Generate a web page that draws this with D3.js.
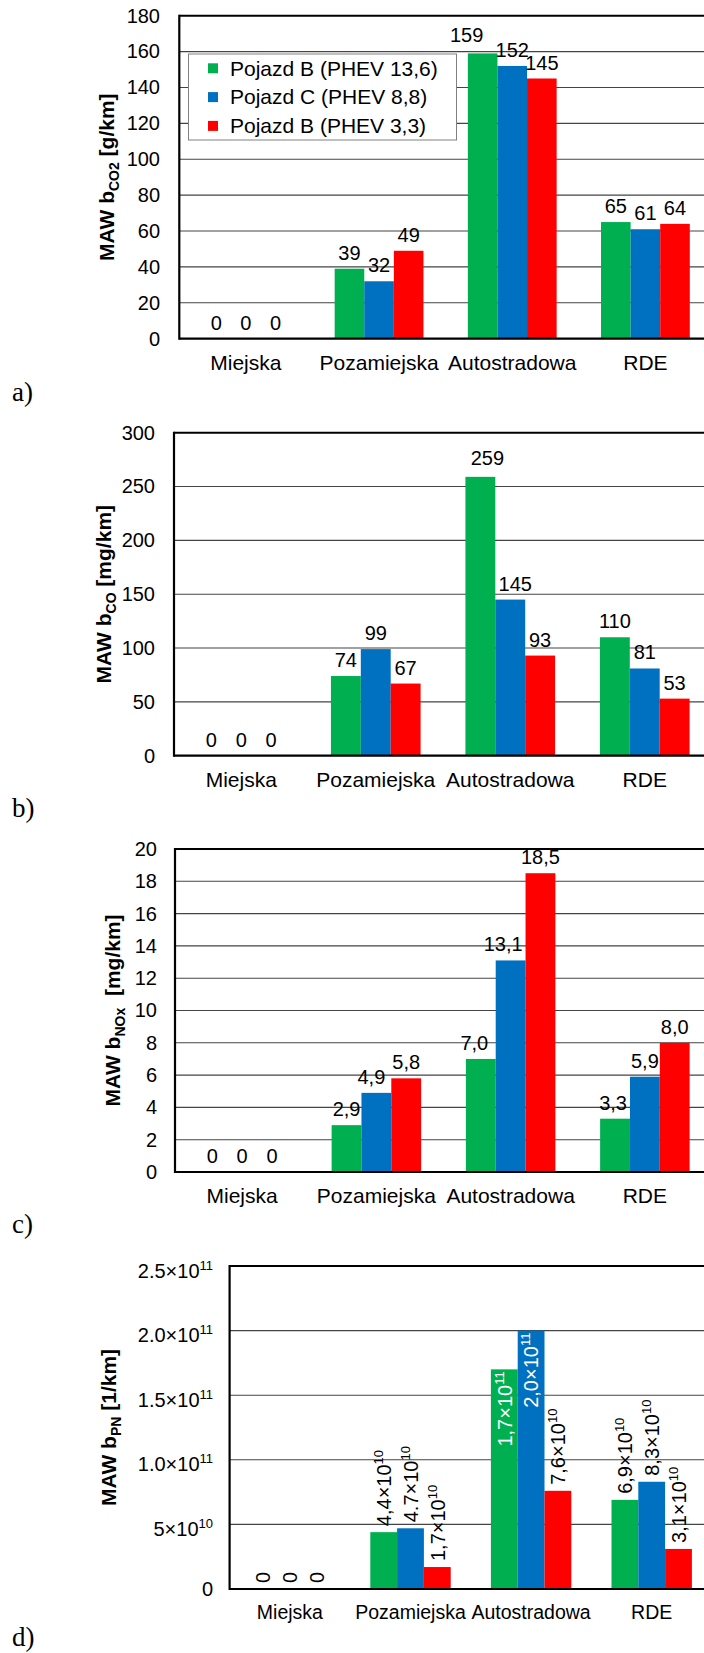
<!DOCTYPE html>
<html>
<head>
<meta charset="utf-8">
<script src="https://cdn.jsdelivr.net/npm/d3@7"></script>
<style>
  html, body { margin: 0; padding: 0; background: #fff; }
  svg { display: block; }
  text { fill: #000; }
</style>
</head>
<body>
<svg id="chart" width="704" height="1653"></svg>
<script>
// ---- data -------------------------------------------------------------
const categories = ["Miejska", "Pozamiejska", "Autostradowa", "RDE"];
const seriesNames = ["Pojazd B (PHEV 13,6)", "Pojazd C (PHEV 8,8)", "Pojazd B (PHEV 3,3)"];
const seriesColors = ["#00B050", "#0070C0", "#FF0000"];

// one row per category: [Pojazd B 13,6, Pojazd C 8,8, Pojazd B 3,3]
const co2Values = [[0, 0, 0], [39, 32, 49], [159, 152, 145], [65, 61, 64]];
const coValues  = [[0, 0, 0], [74, 99, 67], [259, 145, 93], [110, 81, 53]];
const noxValues = [[0, 0, 0], [2.9, 4.9, 5.8], [7.0, 13.1, 18.5], [3.3, 5.9, 8.0]];
const pnValues  = [[0, 0, 0], [4.4e10, 4.7e10, 1.7e10], [1.7e11, 2.0e11, 7.6e10], [6.9e10, 8.3e10, 3.1e10]];
// decimal mark used in each PN value label
const pnDecimalMarks = [[",", ",", ","], [",", ".", ","], [",", ",", ","], [",", ",", ","]];

const co2Ticks = [0, 20, 40, 60, 80, 100, 120, 140, 160, 180];
const coTicks  = [0, 50, 100, 150, 200, 250, 300];
const noxTicks = [0, 2, 4, 6, 8, 10, 12, 14, 16, 18, 20];
const pnTicks  = [0, 5e10, 1e11, 1.5e11, 2e11, 2.5e11];
// PN tick labels as [mantissa text, exponent]
const pnTickLabels = [["0", ""], ["5×10", "10"], ["1.0×10", "11"], ["1.5×10", "11"], ["2.0×10", "11"], ["2.5×10", "11"]];

const panelLetters = ["a)", "b)", "c)", "d)"];

// ---- layout -----------------------------------------------------------
const svg = d3.select("#chart");
const PLOT_RIGHT = 712;
const PLOT_H = 323;
const SANS = '"Liberation Sans", Arial, sans-serif';
const SERIF = '"Liberation Serif", "Times New Roman", serif';

const intFmt = d => String(d);
const commaFmt = d => d === 0 ? "0" : d.toFixed(1).replace(".", ",");

const charts = [
  { values: co2Values, ticks: co2Ticks, top: 15.7, left: 179.3, tickRight: 160, titleX: 114,
    title: ["MAW b", "CO2", " [g/km]"], fmt: intFmt, catFont: 21, catDy: 31, letterDy: 62,
    nudges: { "2-0": [-16, -2] }, legend: true },
  { values: coValues, ticks: coTicks, top: 432.7, left: 174, tickRight: 155, titleX: 111,
    title: ["MAW b", "CO", " [mg/km]"], fmt: intFmt, catFont: 21, catDy: 31, letterDy: 61,
    nudges: { "2-0": [7, -3], "2-1": [5, 0] } },
  { values: noxValues, ticks: noxTicks, top: 849, left: 175, tickRight: 157, titleX: 120,
    title: ["MAW b", "NOx", "  [mg/km]"], fmt: commaFmt, catFont: 21, catDy: 31, letterDy: 61,
    nudges: { "1-1": [-5, 0], "2-0": [-6.5, 0], "2-1": [-7.5, 0], "3-0": [-2, 0] } },
  { values: pnValues, ticks: pnTicks, top: 1266, left: 229.6, tickRight: 213, titleX: 116,
    title: ["MAW b", "PN", " [1/km]"], pn: true, catFont: 19.5, catDy: 29.5, letterDy: 57, nudges: {} }
];

charts.forEach((spec, ci) => drawChart(spec, ci));

function drawChart(spec, ci) {
  const g = svg.append("g").style("font-family", SANS);
  const zeroY = spec.top + PLOT_H;
  const maxV = spec.ticks[spec.ticks.length - 1];

  const x0 = d3.scaleBand().domain(categories).range([spec.left, PLOT_RIGHT]);
  const step = x0.step();
  // clustered bars, gap width 150% of a bar
  const x1 = d3.scaleBand().domain(d3.range(seriesNames.length)).range([step / 6, step * 5 / 6]);
  const y = d3.scaleLinear().domain([0, maxV]).range([zeroY, spec.top]);

  // gridlines
  g.append("g").selectAll("line")
    .data(spec.ticks.filter(t => t !== 0 && t !== maxV))
    .join("line")
    .attr("x1", spec.left).attr("x2", PLOT_RIGHT)
    .attr("y1", d => y(d)).attr("y2", d => y(d))
    .attr("stroke", "#444").attr("stroke-width", 1.1);

  // bars
  const groups = g.append("g").selectAll("g")
    .data(spec.values.map((vals, i) => ({ cat: categories[i], ci: i, vals })))
    .join("g")
    .attr("transform", d => `translate(${x0(d.cat)},0)`);

  groups.selectAll("rect")
    .data(d => d.vals.map((v, si) => ({ v, si, cat: d.cat, ci: d.ci })))
    .join("rect")
    .attr("x", d => x1(d.si))
    .attr("width", x1.bandwidth())
    .attr("y", d => y(d.v))
    .attr("height", d => zeroY - y(d.v))
    .attr("fill", d => seriesColors[d.si]);

  // plot frame: top border, value axis, category axis
  g.append("line").attr("x1", spec.left).attr("x2", PLOT_RIGHT)
    .attr("y1", spec.top).attr("y2", spec.top)
    .attr("stroke", "#000").attr("stroke-width", 2);
  g.append("line").attr("x1", spec.left).attr("x2", spec.left)
    .attr("y1", spec.top - 1).attr("y2", zeroY + 1)
    .attr("stroke", "#000").attr("stroke-width", 2.2);
  g.append("line").attr("x1", spec.left).attr("x2", PLOT_RIGHT)
    .attr("y1", zeroY).attr("y2", zeroY)
    .attr("stroke", "#000").attr("stroke-width", 2.2);

  // value axis labels
  const axis = d3.axisLeft(y).tickValues(spec.ticks).tickSize(0)
    .tickPadding(spec.left - spec.tickRight);
  if (!spec.pn) axis.tickFormat(intFmt);
  const ag = g.append("g").attr("transform", `translate(${spec.left},0)`).call(axis);
  ag.select(".domain").remove();
  ag.attr("font-family", null).attr("font-size", 20);
  ag.selectAll("text").attr("fill", "#000");
  if (spec.pn) {
    ag.selectAll("text").each(function (d, i) {
      const t = d3.select(this).text("");
      const lab = pnTickLabels[i];
      t.append("tspan").text(lab[0]);
      if (lab[1]) t.append("tspan").attr("font-size", 13).attr("dy", -8).text(lab[1]);
      t.attr("dy", lab[1] ? "0.55em" : "0.32em");
    });
  }

  // category labels
  g.append("g").selectAll("text")
    .data(categories)
    .join("text")
    .attr("x", d => x0(d) + step / 2)
    .attr("y", zeroY + spec.catDy)
    .attr("text-anchor", "middle")
    .attr("font-size", spec.catFont)
    .text(d => d);

  // value labels
  const labels = groups.selectAll("text.val")
    .data(d => d.vals.map((v, si) => ({ v, si, cat: d.cat, ci: d.ci })))
    .join("text")
    .attr("class", "val")
    .attr("font-size", 20);

  if (!spec.pn) {
    labels
      .attr("x", d => x1(d.si) + x1.bandwidth() / 2 + (spec.nudges[d.ci + "-" + d.si] || [0, 0])[0])
      .attr("y", d => y(d.v) - 9 + (spec.nudges[d.ci + "-" + d.si] || [0, 0])[1])
      .attr("text-anchor", "middle")
      .text(d => spec.fmt(d.v));
  } else {
    labels.each(function (d) {
      const t = d3.select(this);
      const cx = x1(d.si) + x1.bandwidth() / 2;
      const inside = d.v >= 1.5e11;
      const yy = inside ? y(d.v) + 2 : y(d.v) - 6;
      t.attr("transform", `translate(${cx},${yy}) rotate(-90)`)
        .attr("text-anchor", inside ? "end" : "start")
        .style("fill", inside ? "#fff" : "#000");
      if (d.v === 0) {
        t.append("tspan").attr("dy", "0.36em").text("0");
      } else {
        const e = Math.floor(Math.log10(d.v));
        const m = (d.v / Math.pow(10, e)).toFixed(1).replace(".", pnDecimalMarks[d.ci][d.si]);
        t.append("tspan").attr("dy", "0.36em").text(m + "×10");
        t.append("tspan").attr("font-size", 13).attr("dy", -8).text(String(e));
      }
    });
  }

  // value axis title
  const yMid = (spec.top + zeroY) / 2;
  const title = g.append("text")
    .attr("transform", `translate(${spec.titleX},${yMid}) rotate(-90)`)
    .attr("text-anchor", "middle")
    .attr("font-size", 21)
    .attr("font-weight", "bold")
    .style("white-space", "pre");
  title.append("tspan").text(spec.title[0]);
  title.append("tspan").attr("font-size", 14).attr("dy", 5).text(spec.title[1]);
  title.append("tspan").attr("dy", -5).text(spec.title[2]);

  // panel letter
  g.append("text")
    .attr("x", 12).attr("y", zeroY + spec.letterDy)
    .style("font-family", SERIF)
    .attr("font-size", 27)
    .text(panelLetters[ci]);

  // legend
  if (spec.legend) {
    const lg = g.append("g");
    lg.append("rect")
      .attr("x", 188.5).attr("y", 54).attr("width", 268).attr("height", 86)
      .attr("fill", "#fff").attr("stroke", "#808080").attr("stroke-width", 1);
    const rows = lg.selectAll("g").data(seriesNames).join("g")
      .attr("transform", (d, i) => `translate(208,${68.3 + i * 28.8})`);
    rows.append("rect").attr("x", 0).attr("y", -5).attr("width", 10).attr("height", 10)
      .attr("fill", (d, i) => seriesColors[i]);
    rows.append("text").attr("x", 22).attr("dy", "0.35em")
      .attr("font-size", 21).text(d => d);
  }
}
</script>
</body>
</html>
